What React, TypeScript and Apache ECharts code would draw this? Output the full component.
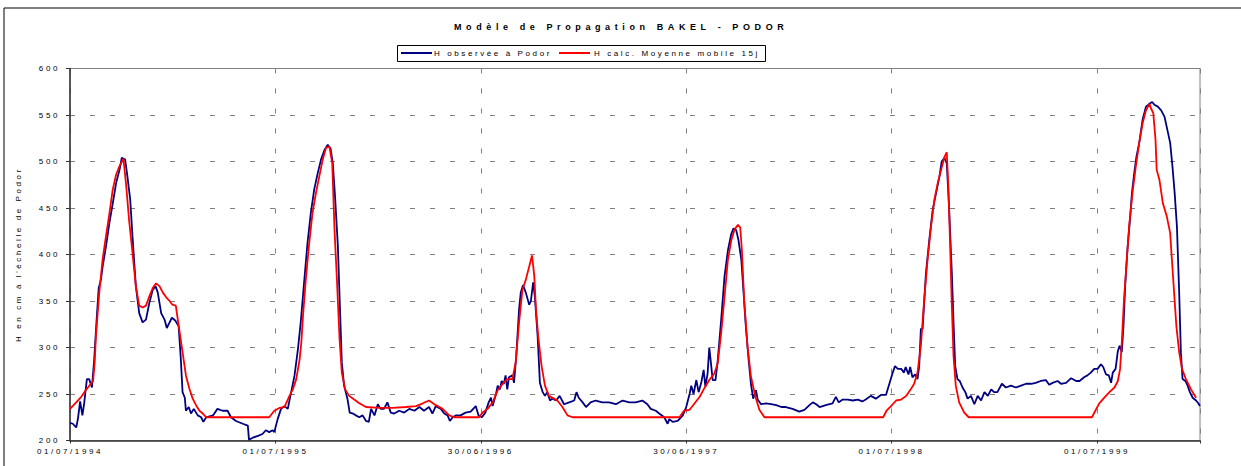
import React, { useEffect, useRef } from "react";
import * as echarts from "echarts";

const TITLE = "Modèle de Propagation BAKEL - PODOR";
const Y_NAME = "H en cm à l'échelle de Podor";
const SERIES_OBS = "H observée à Podor";
const SERIES_CALC = "H calc. Moyenne mobile 15j";
const COLOR_OBS = "#000080";
const COLOR_CALC = "#ff0000";

// x = days since 01/07/1994
const X_TICK_LABELS = ["01/07/1994", "01/07/1995", "30/06/1996", "30/06/1997", "01/07/1998", "01/07/1999"];
const X_TICK_STEP = 365;
const X_MAX = 2008;
const Y_MIN = 200;
const Y_MAX = 600;
const Y_STEP = 50;

// Observed water level at Podor (cm), [day, value]
const obs9495 = [[0,219],[5,218],[11,214],[14,223],[18,242],[22,227],[25,239],[30,266],[34,266],[39,257],[43,287],[47,327],[51,364],[55,373],[58,387],[64,409],[70,434],[76,455],[82,477],[88,491],[92,504],[98,502],[102,484],[107,459],[111,420],[117,366],[123,337],[129,327],[135,330],[141,348],[147,362],[152,366],[156,359],[162,337],[168,330],[172,321],[177,327],[181,332],[187,329],[193,323],[197,287],[200,252],[204,246],[206,232],[211,236],[215,229],[220,234],[227,227],[233,225],[237,220],[242,225],[254,227],[262,234],[271,232],[280,232],[286,225],[295,221],[307,218],[316,216],[318,201],[325,203],[334,205],[342,207],[348,211],[354,209],[360,211],[363,209]];
const obs9596 = [[369,223],[375,234],[381,237],[387,234],[393,252],[399,270],[405,298],[410,327],[416,370],[422,412],[428,445],[434,470],[440,487],[446,502],[452,512],[458,518],[463,514],[467,498],[471,462],[476,409],[480,337],[483,284],[487,259],[493,245],[497,230],[503,229],[508,227],[514,225],[520,227],[526,221],[531,220],[535,234],[541,227],[547,239],[552,234],[558,234],[564,241],[570,230],[576,229],[585,232],[594,230],[603,234],[612,232],[621,236],[629,232],[638,236],[644,229],[650,237],[659,234],[665,229],[671,227],[675,221],[680,225],[686,227],[694,227],[703,230],[712,231],[721,237],[726,227]];
const obs9697 = [[732,225],[738,230],[744,241],[748,246],[751,237],[757,250],[760,259],[764,255],[767,264],[771,261],[774,270],[777,255],[780,268],[786,270],[789,262],[793,291],[798,341],[801,359],[805,367],[810,359],[816,346],[819,350],[823,370],[826,355],[831,312],[835,262],[840,252],[844,248],[848,252],[853,243],[857,245],[864,243],[870,248],[878,239],[887,241],[896,243],[900,252],[904,246],[911,241],[917,236],[925,241],[934,243],[946,241],[958,241],[970,239],[982,243],[994,241],[1005,241],[1017,243],[1026,239],[1032,234],[1041,232],[1047,229],[1056,225],[1062,218],[1065,223],[1071,220],[1080,221],[1089,227]];
const obs9798 = [[1095,236],[1101,250],[1104,259],[1108,250],[1113,265],[1117,252],[1122,263],[1126,276],[1129,258],[1133,272],[1136,300],[1139,283],[1142,265],[1147,265],[1151,286],[1157,329],[1163,376],[1169,404],[1175,422],[1179,428],[1184,426],[1188,415],[1193,394],[1197,358],[1201,322],[1206,286],[1210,261],[1214,245],[1219,254],[1222,244],[1228,239],[1237,240],[1246,239],[1255,238],[1264,236],[1272,236],[1284,234],[1296,231],[1305,233],[1314,238],[1320,241],[1326,239],[1332,236],[1343,238],[1355,240],[1361,247],[1366,241],[1373,244],[1382,244],[1391,243],[1400,244],[1408,242],[1414,244],[1423,248],[1432,245],[1441,249],[1450,249],[1456,261]];
const obs9899 = [[1462,273],[1466,280],[1471,277],[1477,277],[1482,273],[1485,279],[1490,271],[1493,279],[1497,268],[1502,271],[1506,266],[1509,280],[1512,320],[1515,320],[1521,380],[1527,416],[1533,448],[1539,466],[1545,484],[1549,500],[1554,504],[1558,498],[1562,452],[1567,380],[1570,327],[1573,280],[1577,266],[1581,264],[1586,257],[1591,252],[1595,245],[1601,248],[1607,239],[1613,248],[1619,243],[1625,252],[1631,248],[1637,255],[1642,252],[1648,252],[1656,261],[1663,257],[1672,259],[1681,257],[1690,259],[1699,261],[1708,261],[1716,262],[1725,264],[1734,265],[1740,260],[1746,262],[1755,264],[1761,261],[1770,262],[1779,267],[1788,264],[1794,264],[1802,268],[1808,270],[1814,273],[1820,277]];
const obs9900 = [[1826,277],[1832,282],[1836,279],[1841,271],[1846,270],[1850,262],[1853,273],[1858,277],[1862,296],[1865,302],[1869,295],[1872,323],[1875,366],[1879,405],[1884,441],[1887,466],[1891,487],[1895,505],[1900,520],[1906,545],[1912,559],[1918,562],[1923,564],[1927,561],[1933,559],[1939,555],[1945,548],[1950,534],[1955,520],[1959,495],[1963,466],[1967,430],[1971,359],[1974,295],[1977,266],[1982,264],[1986,259],[1990,252],[1995,246],[2001,243],[2005,240],[2008,237]];

// Computed level, 15-day moving average (cm), [day, value]
const calc9495 = [[0,234],[11,241],[20,247],[28,254],[37,261],[41,264],[44,285],[46,312],[52,359],[58,395],[64,420],[70,444],[76,470],[82,486],[88,495],[95,503],[100,473],[105,437],[111,402],[117,366],[123,345],[129,343],[135,345],[141,355],[147,364],[153,369],[159,366],[165,359],[171,354],[177,350],[182,346],[188,345],[194,320],[200,295],[206,270],[212,256],[218,245],[224,238],[230,232],[236,229],[242,225],[354,225],[363,232]];
const calc9596 = [[372,235],[381,236],[390,248],[396,255],[402,266],[408,287],[411,305],[414,334],[419,373],[425,412],[431,445],[437,466],[443,484],[449,502],[455,515],[461,516],[466,498],[470,427],[474,377],[479,309],[483,273],[489,255],[496,248],[505,244],[514,240],[526,236],[550,235],[573,235],[597,236],[615,237],[627,240],[638,243],[650,238],[662,234],[674,227],[683,225],[727,225]];
const calc9697 = [[733,230],[742,234],[751,241],[760,254],[769,261],[777,266],[786,266],[792,284],[798,327],[804,362],[810,373],[816,387],[821,399],[825,377],[828,341],[832,312],[838,280],[844,259],[851,248],[860,245],[866,243],[875,236],[884,227],[893,225],[1083,225],[1091,232]];
const calc9798 = [[1101,233],[1110,240],[1119,247],[1127,256],[1136,265],[1145,272],[1151,283],[1157,315],[1163,354],[1169,394],[1175,415],[1181,427],[1187,432],[1191,429],[1194,404],[1198,351],[1204,301],[1210,269],[1218,247],[1225,233],[1234,225],[1445,225],[1451,232],[1459,237]];
const calc9899 = [[1468,243],[1477,244],[1486,248],[1494,255],[1500,261],[1506,273],[1512,302],[1518,352],[1524,395],[1530,430],[1536,459],[1542,477],[1548,491],[1554,505],[1558,510],[1561,470],[1564,409],[1567,345],[1570,291],[1574,259],[1580,241],[1589,230],[1597,225],[1816,225],[1822,232]];
const calc9900 = [[1829,240],[1838,246],[1847,252],[1856,257],[1862,264],[1866,277],[1869,305],[1873,352],[1878,395],[1882,430],[1888,466],[1894,495],[1900,520],[1906,541],[1912,555],[1918,562],[1921,557],[1925,552],[1929,523],[1931,491],[1936,480],[1942,455],[1949,441],[1955,423],[1958,395],[1962,359],[1966,323],[1971,295],[1976,277],[1983,266],[1992,255],[2001,246]];

const observed = [...obs9495, ...obs9596, ...obs9697, ...obs9798, ...obs9899, ...obs9900];
const computed = [...calc9495, ...calc9596, ...calc9697, ...calc9798, ...calc9899, ...calc9900];

const FONT = 'Arial, "Liberation Sans", sans-serif';
const GRID_DASH = { color: "#808080", width: 1, type: [5, 15] as number[] };

const css = `
.chart-root text { letter-spacing: 2.6px; }
.chart-root text[style*="bold"] { letter-spacing: 4.6px; }
`;

function legendGraphic() {
  const y = 53;
  const textStyle = { fontSize: 8, fontFamily: FONT, fill: "#000", align: "left", verticalAlign: "middle" };
  return {
    type: "group",
    silent: true,
    children: [
      { type: "rect", shape: { x: 397.5, y: 45.5, width: 368, height: 16 }, style: { fill: "#fff", stroke: "#000", lineWidth: 1 } },
      { type: "line", shape: { x1: 401, y1: y, x2: 432, y2: y }, style: { stroke: COLOR_OBS, lineWidth: 2 } },
      { type: "text", x: 434, y, style: { ...textStyle, text: SERIES_OBS } },
      { type: "line", shape: { x1: 559, y1: y, x2: 590, y2: y }, style: { stroke: COLOR_CALC, lineWidth: 2 } },
      { type: "text", x: 594, y, style: { ...textStyle, text: SERIES_CALC } },
    ],
  };
}

export default function App() {
  const ref = useRef<HTMLDivElement>(null);
  useEffect(() => {
    const chart = echarts.init(ref.current as HTMLDivElement, null, { renderer: "svg" });
    chart.setOption({
      animation: false,
      backgroundColor: "#ffffff",
      textStyle: { fontFamily: FONT },
      title: {
        text: TITLE,
        left: 454,
        top: 22,
        padding: 0,
        textStyle: { fontSize: 9, fontWeight: "bold", color: "#000", fontFamily: FONT },
      },
      graphic: [
        {
          type: "rect",
          silent: true,
          z: -10,
          shape: { x: 4, y: 8, width: 1400, height: 700 },
          style: { fill: "none", stroke: "#000", lineWidth: 1 },
        },
        legendGraphic(),
      ],
      grid: {
        left: 70,
        top: 68.5,
        width: 1130,
        height: 372,
        show: true,
        borderColor: "#808080",
        borderWidth: 1,
        backgroundColor: "transparent",
        containLabel: false,
        outerBoundsMode: "none",
      },
      xAxis: {
        type: "value",
        min: 0,
        max: X_MAX,
        interval: X_TICK_STEP,
        axisLine: { show: true, onZero: false, lineStyle: { color: "#333", width: 1.5 } },
        axisTick: { show: true, length: 3, inside: false, lineStyle: { color: "#333" } },
        axisLabel: {
          margin: 7,
          fontSize: 8,
          color: "#000",
          fontFamily: FONT,
          hideOverlap: false,
          formatter: (v: number) => {
            const i = Math.round(v / X_TICK_STEP);
            return Math.abs(v - i * X_TICK_STEP) < 1e-6 && i < X_TICK_LABELS.length ? X_TICK_LABELS[i] : "";
          },
        },
        splitLine: { show: true, lineStyle: GRID_DASH },
      },
      yAxis: {
        type: "value",
        min: Y_MIN,
        max: Y_MAX,
        interval: Y_STEP,
        name: Y_NAME,
        nameLocation: "middle",
        nameGap: 48,
        nameMoveOverlap: false,
        nameTextStyle: { fontSize: 8, color: "#000", fontFamily: FONT },
        axisLine: { show: true, onZero: false, lineStyle: { color: "#333", width: 1.5 } },
        axisTick: { show: true, length: 4, lineStyle: { color: "#333" } },
        axisLabel: { margin: 10, fontSize: 8, color: "#000", fontFamily: FONT },
        splitLine: { show: true, lineStyle: GRID_DASH },
      },
      series: [
        {
          name: SERIES_OBS,
          type: "line",
          data: observed,
          symbol: "none",
          showSymbol: false,
          color: COLOR_OBS,
          lineStyle: { color: COLOR_OBS, width: 1.8 },
        },
        {
          name: SERIES_CALC,
          type: "line",
          data: computed,
          symbol: "none",
          showSymbol: false,
          color: COLOR_CALC,
          lineStyle: { color: COLOR_CALC, width: 1.8 },
        },
      ],
    });
    return () => chart.dispose();
  }, []);
  return (
    <>
      <style>{css}</style>
      <div
        ref={ref}
        className="chart-root"
        style={{ position: "absolute", left: 0, top: 0, width: 1241, height: 466, background: "#fff" }}
      />
    </>
  );
}
